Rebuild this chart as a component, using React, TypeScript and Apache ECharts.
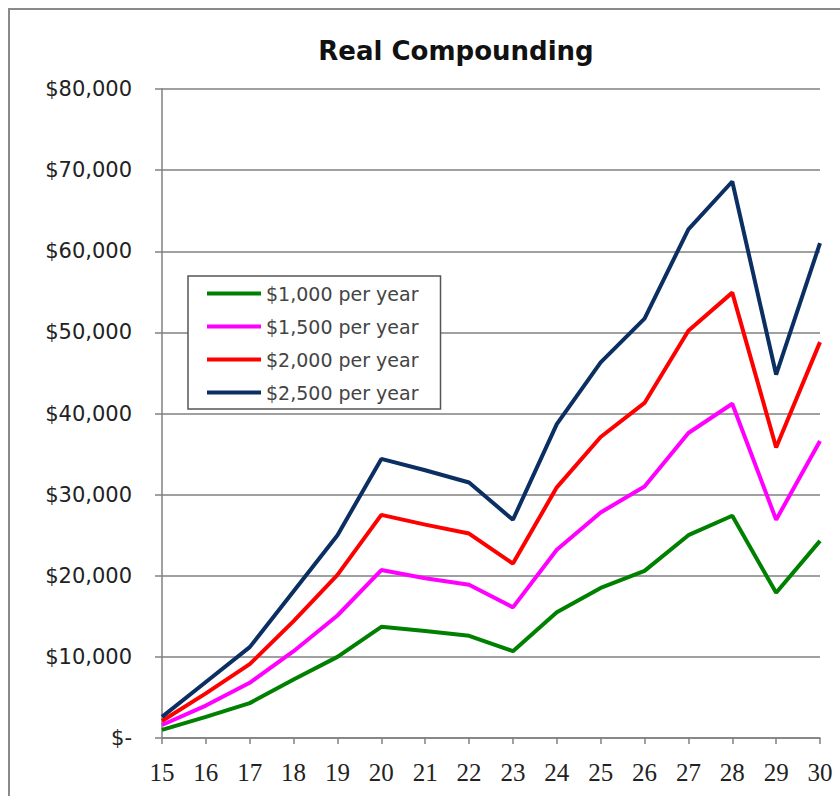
import React, { useEffect, useRef } from "react";
import * as echarts from "echarts";

const years = ["15", "16", "17", "18", "19", "20", "21", "22", "23", "24", "25", "26", "27", "28", "29", "30"];
const seriesNames = ["$1,000 per year", "$1,500 per year", "$2,000 per year", "$2,500 per year"];
const s1000 = [1000, 2600, 4300, 7200, 10000, 13700, 13200, 12600, 10700, 15500, 18500, 20600, 25000, 27400, 17900, 24300];
const s1500 = [1600, 4000, 6800, 10700, 15100, 20700, 19700, 18900, 16100, 23200, 27800, 31000, 37600, 41200, 26900, 36600];
const s2000 = [2100, 5500, 9100, 14400, 20100, 27500, 26300, 25200, 21500, 30900, 37100, 41300, 50200, 54900, 35800, 48800];
const s2500 = [2600, 6900, 11200, 18100, 25000, 34400, 33000, 31500, 26900, 38700, 46300, 51700, 62700, 68600, 44800, 61000];
const colors = ["#008000", "#ff00ff", "#ff0000", "#0b2f62"];

export default function App() {
  const ref = useRef<HTMLDivElement>(null);
  useEffect(() => {
    if (!ref.current) return;
    const chart = echarts.init(ref.current, null, { renderer: "svg" });
    const data = [s1000, s1500, s2000, s2500];
    chart.setOption({
      animation: false,
      backgroundColor: "#ffffff",
      title: {
        text: "Real Compounding",
        left: 451,
        textAlign: "center",
        top: 33,
        textStyle: { fontFamily: "DejaVu Sans", fontWeight: "bold", fontSize: 26, color: "#111" },
      },
      graphic: [
        {
          type: "rect",
          shape: { x: 9, y: 9, width: 1000, height: 1000 },
          style: { fill: "none", stroke: "#8a8a8a", lineWidth: 2 },
        },
      ],
      legend: {
        orient: "vertical",
        left: 188,
        top: 276,
        icon: "rect",
        itemWidth: 54,
        itemHeight: 4,
        itemGap: 14,
        padding: [8, 22, 7, 19],
        backgroundColor: "#ffffff",
        borderColor: "#555",
        borderWidth: 1.5,
        data: seriesNames,
        textStyle: { fontFamily: "DejaVu Sans", fontSize: 19, color: "#444", lineHeight: 18 },
      },
      grid: { left: 162, right: 20, top: 89, bottom: 58, containLabel: false },
      xAxis: {
        type: "category",
        data: years,
        boundaryGap: false,
        axisLine: { lineStyle: { color: "#808080", width: 1.5 } },
        axisTick: { show: true, length: 6, lineStyle: { color: "#808080", width: 1.5 } },
        axisLabel: { fontFamily: "Liberation Serif", fontSize: 25, color: "#222", margin: 22 },
      },
      yAxis: {
        type: "value",
        min: 0,
        max: 80000,
        interval: 10000,
        axisLine: { show: true, lineStyle: { color: "#808080", width: 1.5 } },
        axisTick: { show: true, length: 7, lineStyle: { color: "#808080", width: 1.5 } },
        splitLine: { show: true, lineStyle: { color: "#808080", width: 1.5 } },
        axisLabel: {
          fontFamily: "DejaVu Sans",
          fontSize: 21,
          color: "#222",
          margin: 30,
          formatter: (v: number) => (v === 0 ? "$-" : "$" + v.toLocaleString("en-US")),
        },
      },
      series: seriesNames.map((name, i) => ({
        name,
        type: "line",
        data: data[i],
        symbol: "none",
        lineStyle: { color: colors[i], width: 4 },
        itemStyle: { color: colors[i] },
      })),
    });
    return () => chart.dispose();
  }, []);
  return <div ref={ref} style={{ position: "fixed", left: 0, top: 0, width: 840, height: 796 }} />;
}
